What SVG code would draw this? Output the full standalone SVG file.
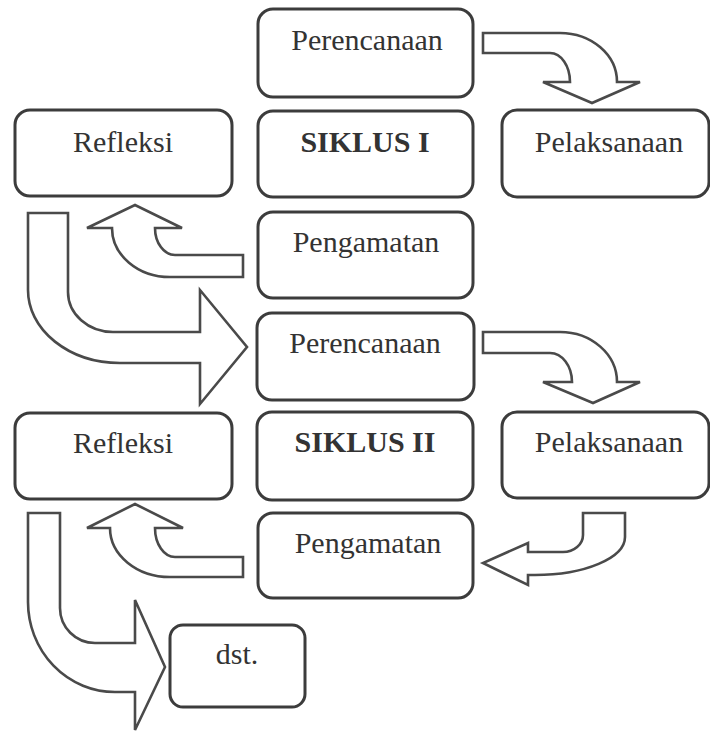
<svg xmlns="http://www.w3.org/2000/svg" width="710" height="733" viewBox="0 0 710 733">
<style>
.box{fill:#fff;stroke:#3c3c3c;stroke-width:3}
.lbl{font-family:"Liberation Serif","Times New Roman",serif;font-size:30px;fill:#333;text-anchor:middle}
.b{font-weight:bold}
.arr{fill:#fff;stroke:#4a4a4a;stroke-width:2.6;stroke-linejoin:miter}
</style>
<rect width="710" height="733" fill="#fff"/>
<g id="connectors">
<path class="arr" d="M483,33 L560,33 A57,49 0 0 1 617,82 L640,82 L592,103 L543,82 L570,82 A20,29 0 0 0 550,53 L483,53 Z"/>
<path class="arr" d="M483,332 L560,332 A57,50 0 0 1 617,382 L640,382 L593,403 L543,382 L572,382 A22,29 0 0 0 550,353 L483,353 Z"/>
<path class="arr" d="M243,255 L175,255 A20,27 0 0 1 155,228 L182,228 L135,205 L87,228 L112,228 A58,49 0 0 0 170,277 L243,277 Z"/>
<path class="arr" d="M28,213 L68,213 L68,292 A45,40 0 0 0 113,332 L200,332 L200,290 L247,347 L200,404 L200,363 L120,363 A92,73 0 0 1 28,290 Z"/>
<path class="arr" d="M583,513 L625,513 L625,537 A90,38 0 0 1 535,575 L528,575 L528,585 L483,563 L528,543 L528,552 L563,552 A20,17 0 0 0 583,535 Z"/>
<path class="arr" d="M243,557 L175,557 A20,29 0 0 1 155,528 L183,528 L135,504 L87,528 L110,528 A60,49 0 0 0 170,577 L243,577 Z"/>
<path class="arr" d="M28,513 L60,513 L60,608 A35,35 0 0 0 95,643 L135,643 L135,600 L165,667 L135,730 L135,692 L115,692 A87,90 0 0 1 28,602 Z"/>
</g>
<g id="perencanaan1"><rect class="box" x="258" y="9" width="215" height="88" rx="15"/><text class="lbl" x="367" y="50">Perencanaan</text></g>
<g id="refleksi1"><rect class="box" x="15" y="110" width="217" height="86" rx="15"/><text class="lbl" x="123" y="152">Refleksi</text></g>
<g id="siklus1"><rect class="box" x="258" y="111" width="215" height="86" rx="15"/><text class="lbl b" x="365" y="152">SIKLUS I</text></g>
<g id="pelaksanaan1"><rect class="box" x="502" y="110" width="207" height="87" rx="15"/><text class="lbl" x="609" y="152">Pelaksanaan</text></g>
<g id="pengamatan1"><rect class="box" x="258" y="212" width="215" height="86" rx="15"/><text class="lbl" x="366" y="252">Pengamatan</text></g>
<g id="perencanaan2"><rect class="box" x="257" y="313" width="217" height="87" rx="15"/><text class="lbl" x="365" y="353">Perencanaan</text></g>
<g id="refleksi2"><rect class="box" x="15" y="413" width="217" height="86" rx="15"/><text class="lbl" x="123" y="453">Refleksi</text></g>
<g id="siklus2"><rect class="box" x="257" y="412" width="216" height="88" rx="15"/><text class="lbl b" x="365" y="452">SIKLUS II</text></g>
<g id="pelaksanaan2"><rect class="box" x="502" y="412" width="207" height="86" rx="15"/><text class="lbl" x="609" y="452">Pelaksanaan</text></g>
<g id="pengamatan2"><rect class="box" x="258" y="513" width="215" height="85" rx="15"/><text class="lbl" x="368" y="553">Pengamatan</text></g>
<g id="dst"><rect class="box" x="170" y="625" width="135" height="82" rx="13"/><text class="lbl" x="237" y="664">dst.</text></g>
</svg>
